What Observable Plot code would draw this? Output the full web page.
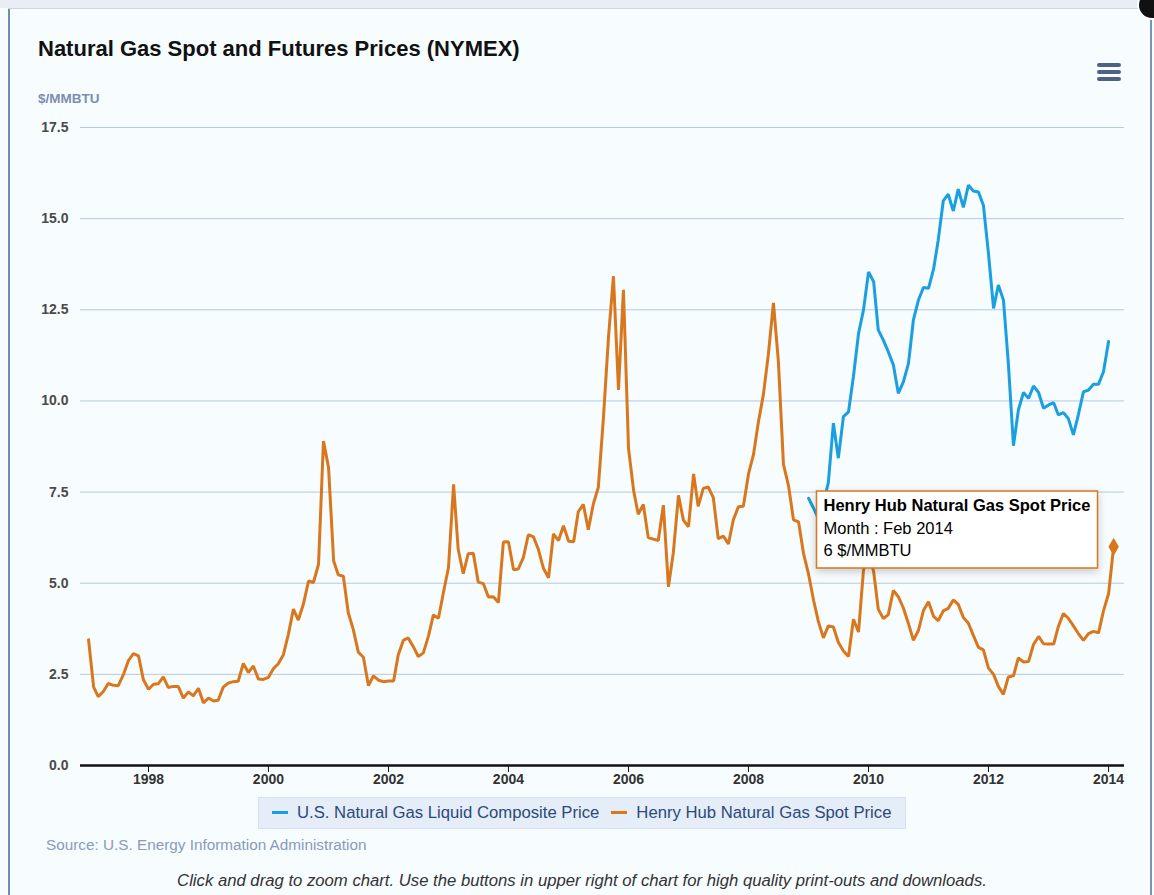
<!DOCTYPE html>
<html>
<head>
<meta charset="utf-8">
<script src="https://cdn.jsdelivr.net/npm/d3@7"></script>
<script src="https://cdn.jsdelivr.net/npm/@observablehq/plot@0.6"></script>
<style>
  html, body { margin: 0; padding: 0; }
  body { width: 1154px; height: 895px; position: relative; overflow: hidden; background: #f7fcff; font-family: "Liberation Sans", Arial, sans-serif; }
  .abs { position: absolute; white-space: nowrap; }
  #topstrip { left: 0; top: 0; width: 1154px; height: 8px; background: #e9eef5; }
  #frameL { left: 8px; top: 8px; width: 2px; height: 887px; background: #6d8db5; }
  #frameT { left: 8px; top: 8px; width: 1142px; height: 1px; background: #c9d6e6; }
  #frameR { left: 1150px; top: 8px; width: 2px; height: 887px; background: #7a93b3; }
  #title { left: 38px; top: 36px; font-size: 22px; font-weight: bold; color: #111; }
  #unit { left: 38px; top: 91px; font-size: 13.5px; font-weight: bold; color: #7d8db0; }
  #menu { left: 1097px; top: 63px; width: 24px; height: 18px; }
  .bar { height: 4px; background: #4d6283; border-radius: 2px; margin-bottom: 3px; }
  #close { left: 1137px; top: -10px; width: 26px; height: 26px; border-radius: 50%; background: #111; border: 2px solid #fff; }
  #chart { left: 0; top: 0; }
  #legend { left: 258px; top: 797px; width: 646px; height: 30px; background: #e5edf8; border: 1px solid #d6e1ef; font-size: 16.7px; color: #2b4a78; line-height: 30px; }
  .key { display: inline-block; width: 16px; height: 3px; vertical-align: middle; margin: 0 9px 0 0; position: relative; top: -1px; }
  #source { left: 46px; top: 836px; font-size: 15.3px; color: #8a9aba; }
  #note { left: 0; width: 1164px; text-align: center; top: 871px; font-size: 16.7px; font-style: italic; color: #333; }
</style>
</head>
<body>
<div id="topstrip" class="abs"></div>
<div id="frameL" class="abs"></div>
<div id="frameT" class="abs"></div>
<div id="frameR" class="abs"></div>
<div id="close" class="abs"></div>
<div id="chart" class="abs"></div>
<div id="title" class="abs">Natural Gas Spot and Futures Prices (NYMEX)</div>
<div id="unit" class="abs">$/MMBTU</div>
<div id="menu" class="abs"><div class="bar"></div><div class="bar"></div><div class="bar"></div></div>
<div id="legend" class="abs"></div>
<div id="source" class="abs">Source: U.S. Energy Information Administration</div>
<div id="note" class="abs">Click and drag to zoom chart. Use the buttons in upper right of chart for high quality print-outs and downloads.</div>
<script>
// ---- data (monthly, $/MMBTU) ----
const seriesNames = ["U.S. Natural Gas Liquid Composite Price", "Henry Hub Natural Gas Spot Price"];
const seriesColors = ["#1a9fe0", "#d9771c"];

// Henry Hub spot, Jan 1997 .. Feb 2014 (one row per year)
const henryHubStartYear = 1997;
const henryHub = [
  [3.45, 2.15, 1.89, 2.03, 2.25, 2.20, 2.19, 2.49, 2.88, 3.07, 3.01, 2.35],
  [2.09, 2.23, 2.24, 2.43, 2.14, 2.17, 2.17, 1.85, 2.02, 1.91, 2.12, 1.72],
  [1.85, 1.77, 1.79, 2.15, 2.26, 2.30, 2.31, 2.80, 2.55, 2.73, 2.37, 2.36],
  [2.42, 2.66, 2.79, 3.04, 3.59, 4.29, 3.99, 4.43, 5.06, 5.02, 5.52, 8.90],
  [8.17, 5.61, 5.23, 5.19, 4.19, 3.72, 3.11, 2.97, 2.19, 2.46, 2.34, 2.30],
  [2.32, 2.32, 3.03, 3.43, 3.50, 3.26, 2.99, 3.09, 3.55, 4.13, 4.04, 4.74],
  [5.43, 7.71, 5.93, 5.26, 5.81, 5.82, 5.03, 4.99, 4.62, 4.63, 4.47, 6.13],
  [6.14, 5.37, 5.39, 5.71, 6.33, 6.27, 5.93, 5.41, 5.15, 6.35, 6.17, 6.58],
  [6.15, 6.14, 6.96, 7.16, 6.47, 7.18, 7.63, 9.53, 11.75, 13.42, 10.30, 13.05],
  [8.69, 7.54, 6.89, 7.16, 6.25, 6.21, 6.17, 7.14, 4.90, 5.85, 7.41, 6.73],
  [6.55, 8.00, 7.11, 7.60, 7.64, 7.35, 6.22, 6.29, 6.08, 6.74, 7.10, 7.11],
  [7.99, 8.54, 9.41, 10.18, 11.27, 12.69, 11.09, 8.26, 7.67, 6.74, 6.68, 5.82],
  [5.24, 4.52, 3.96, 3.50, 3.83, 3.80, 3.38, 3.14, 2.99, 4.01, 3.66, 5.35],
  [5.83, 5.32, 4.29, 4.03, 4.14, 4.80, 4.63, 4.32, 3.89, 3.43, 3.71, 4.25],
  [4.49, 4.09, 3.97, 4.24, 4.31, 4.54, 4.42, 4.06, 3.90, 3.57, 3.24, 3.17],
  [2.67, 2.50, 2.17, 1.95, 2.43, 2.46, 2.95, 2.84, 2.85, 3.32, 3.54, 3.34],
  [3.33, 3.33, 3.81, 4.17, 4.04, 3.83, 3.62, 3.43, 3.62, 3.68, 3.64, 4.24],
  [4.71, 6.00]
];

// U.S. natural gas liquid composite, Jan 2009 .. Jan 2014
const liquidStartYear = 2009;
const liquidComposite = [
  [7.33, 7.05, 6.78, 7.20, 7.75, 9.39, 8.43, 9.57, 9.70, 10.67, 11.85, 12.49],
  [13.54, 13.27, 11.95, 11.67, 11.35, 10.99, 10.21, 10.52, 11.03, 12.22, 12.77, 13.11],
  [13.09, 13.62, 14.41, 15.49, 15.67, 15.21, 15.81, 15.31, 15.92, 15.76, 15.73, 15.37],
  [14.04, 12.54, 13.18, 12.77, 11.03, 8.77, 9.75, 10.23, 10.07, 10.41, 10.23, 9.80],
  [9.89, 9.95, 9.62, 9.68, 9.52, 9.07, 9.62, 10.25, 10.30, 10.46, 10.46, 10.80],
  [11.63]
];

const yTicks = [0, 2.5, 5, 7.5, 10, 12.5, 15, 17.5];
const xTickYears = [1998, 2000, 2002, 2004, 2006, 2008, 2010, 2012, 2014];
const tooltipLines = ["Henry Hub Natural Gas Spot Price", "Month : Feb 2014", "6 $/MMBTU"];

// ---- build table ----
function toRows(rows, startYear, name) {
  const out = [];
  rows.forEach((vals, yi) => vals.forEach((v, mi) => out.push({date: new Date(startYear + yi, mi, 1), value: v, series: name})));
  return out;
}
const hhRows = toRows(henryHub, henryHubStartYear, seriesNames[1]);
const liqRows = toRows(liquidComposite, liquidStartYear, seriesNames[0]);
const lastHH = hhRows[hhRows.length - 1];

const plot = Plot.plot({
  width: 1154,
  height: 800,
  marginLeft: 80,
  marginRight: 30,
  marginTop: 127,
  marginBottom: 35,
  style: {background: "transparent", fontFamily: "'Liberation Sans', Arial, sans-serif"},
  x: {type: "time", domain: [new Date(1996, 10, 13), new Date(2014, 3, 8)]},
  y: {domain: [0, 17.5]},
  marks: [
    Plot.gridY(yTicks, {stroke: "#b6c8e3", strokeOpacity: 1, strokeWidth: 1}),
    Plot.axisY(yTicks, {tickFormat: d3.format(".1f"), tickSize: 0, tickPadding: 12, fontSize: 14, fontWeight: "bold", fill: "#4a4a4a", label: null}),
    Plot.axisX(xTickYears.map(y => new Date(y, 0, 1)), {tickFormat: d3.timeFormat("%Y"), tickSize: 7, tickPadding: 2, fontSize: 14, fontWeight: "bold", fill: "#333", stroke: "#111", label: null}),
    Plot.ruleY([0], {stroke: "#111", strokeWidth: 2.5}),
    Plot.line(hhRows, {x: "date", y: "value", stroke: seriesColors[1], strokeWidth: 3, strokeLinejoin: "miter"}),
    Plot.line(liqRows, {x: "date", y: "value", stroke: seriesColors[0], strokeWidth: 3, strokeLinejoin: "miter"}),
    Plot.dot([lastHH], {x: "date", y: "value", symbol: "diamond", r: 5.5, fill: seriesColors[1], stroke: "none"}),
    Plot.tip([lastHH], {x: "date", y: "value", title: () => tooltipLines.join("\n"), anchor: "right", dx: -16, dy: -17, pointerSize: 0, fill: "white", stroke: seriesColors[1], strokeWidth: 1.5, fontSize: 16.5, lineHeight: 1.37, textPadding: 7})
  ]
});
document.getElementById("chart").appendChild(plot);
// bold the first tooltip line
const firstTs = plot.querySelector('g[aria-label="tip"] text tspan');
if (firstTs) firstTs.setAttribute("font-weight", "bold");

// legend
const legend = document.getElementById("legend");
legend.innerHTML = seriesNames.map((n, i) =>
  `<span style="margin-left:${i === 0 ? 13 : 12}px"><span class="key" style="background:${seriesColors[i]}"></span>${n}</span>`).join("");
</script>
</body>
</html>
